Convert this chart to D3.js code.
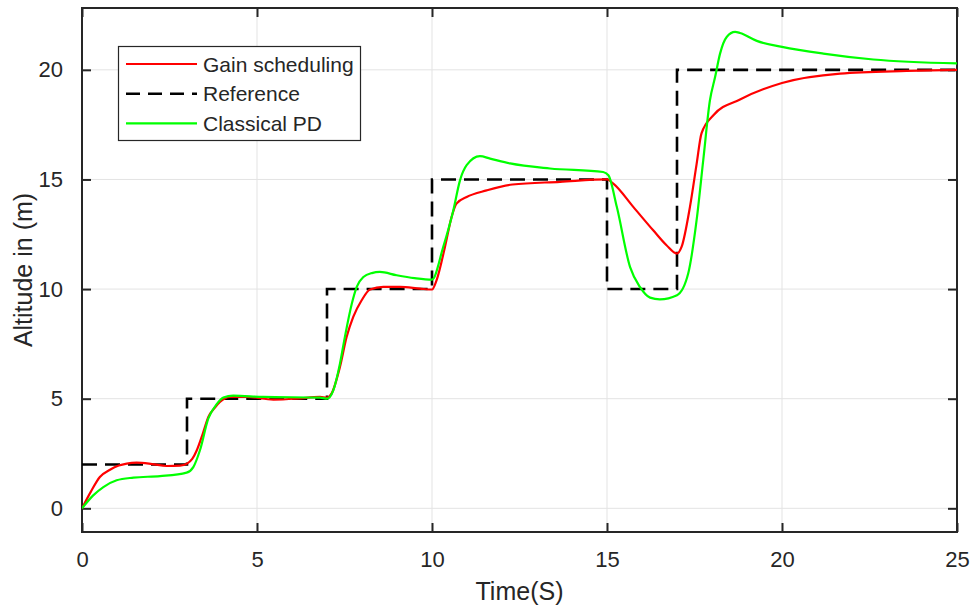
<!DOCTYPE html>
<html>
<head>
<meta charset="utf-8">
<script src="https://cdn.jsdelivr.net/npm/d3@7"></script>
<style>
  body { margin: 0; background: #fff; }
  text { font-family: "Liberation Sans", Arial, sans-serif; fill: #262626; }
</style>
</head>
<body>
<div id="chart-area"></div>
<script>
// data
const refTime = [0, 3, 3, 7, 7, 10, 10, 15, 15, 17, 17, 25];
const refAlt  = [2, 2, 5, 5, 10, 10, 15, 15, 10, 10, 20, 20];

const gsTime = [0, 0.25, 0.51, 0.8, 1.05, 1.28, 1.56, 2.0, 2.42, 2.8, 3.0, 3.15, 3.28, 3.45, 3.61, 3.8, 3.94, 4.23, 4.7, 5.47, 6.13, 6.8, 7.0, 7.13, 7.37, 7.56, 7.75, 7.99, 8.23, 8.61, 9.09, 9.66, 10.0, 10.13, 10.37, 10.56, 10.7, 10.99, 11.56, 12.3, 13.66, 15.0, 15.18, 15.75, 16.32, 16.7, 17.0, 17.13, 17.37, 17.56, 17.7, 18.04, 18.8, 20.0, 21.66, 23.56, 25];
const gsAlt  = [0, 0.75, 1.43, 1.76, 1.95, 2.04, 2.08, 2.02, 1.93, 1.95, 2.04, 2.25, 2.65, 3.4, 4.17, 4.6, 4.85, 5.08, 5.08, 4.96, 5.0, 5.08, 5.05, 5.23, 6.45, 7.81, 8.73, 9.49, 9.98, 10.1, 10.1, 10.02, 9.98, 10.4, 11.92, 13.29, 13.9, 14.2, 14.5, 14.77, 14.89, 15.0, 14.81, 13.75, 12.68, 12.0, 11.62, 11.92, 13.75, 15.7, 17.1, 17.93, 18.65, 19.4, 19.83, 19.95, 20.0];

const pdTime = [0, 0.32, 0.61, 0.99, 1.47, 2.23, 2.99, 3.18, 3.37, 3.61, 3.85, 4.04, 4.32, 5.18, 6.8, 7.0, 7.18, 7.37, 7.51, 7.71, 7.85, 8.04, 8.28, 8.51, 8.99, 9.5, 10.0, 10.32, 10.61, 10.8, 10.99, 11.37, 11.66, 12.23, 13.37, 14.89, 15.04, 15.28, 15.66, 15.94, 16.23, 16.51, 17.0, 17.32, 17.56, 17.75, 17.94, 18.09, 18.23, 18.42, 18.66, 18.8, 19.28, 20.0, 21.18, 22.61, 25];
const pdAlt  = [0, 0.59, 0.97, 1.28, 1.4, 1.47, 1.63, 1.88, 2.65, 4.1, 4.75, 5.05, 5.14, 5.08, 5.05, 5.0, 5.38, 6.6, 7.81, 9.34, 10.1, 10.55, 10.73, 10.78, 10.63, 10.5, 10.43, 11.92, 13.6, 14.96, 15.65, 16.06, 15.95, 15.73, 15.5, 15.34, 15.19, 13.75, 11.0, 10.1, 9.61, 9.53, 9.72, 10.71, 13.14, 15.88, 18.6, 19.68, 20.74, 21.5, 21.73, 21.68, 21.32, 21.05, 20.74, 20.47, 20.29];

const xTicks = [0, 5, 10, 15, 20, 25];
const yTicks = [0, 5, 10, 15, 20];

const full_width = 973, full_height = 607;
const margin = { left: 82, right: 16, top: 8, bottom: 75 };
const width = full_width - margin.left - margin.right,
    height = full_height - margin.top - margin.bottom;

const svg = d3.select("#chart-area")
    .append("svg")
    .attr("width", full_width)
    .attr("height", full_height);

const g = svg.append("g")
    .attr("transform", "translate(" + margin.left + ", " + margin.top + ")");

const x = d3.scaleLinear().domain([0, 25]).range([0, width]);
const y = d3.scaleLinear().domain([-1.08, 22.82]).range([height, 0]);

// grid
g.append("g").selectAll("line")
    .data(xTicks).enter().append("line")
    .attr("x1", d => x(d)).attr("x2", d => x(d))
    .attr("y1", 0).attr("y2", height)
    .attr("stroke", "#e3e3e3").attr("stroke-width", 1);
g.append("g").selectAll("line")
    .data(yTicks).enter().append("line")
    .attr("x1", 0).attr("x2", width)
    .attr("y1", d => y(d)).attr("y2", d => y(d))
    .attr("stroke", "#e3e3e3").attr("stroke-width", 1);

// axes
const tickLen = 9;
const xAxisCall = d3.axisBottom(x).tickValues(xTicks).tickSizeInner(-tickLen).tickSizeOuter(0).tickPadding(19);
const xAxis = g.append("g")
    .attr("class", "x axis")
    .attr("transform", "translate(0, " + height + ")")
    .call(xAxisCall);
const yAxisCall = d3.axisLeft(y).tickValues(yTicks).tickSizeInner(-tickLen).tickSizeOuter(0).tickPadding(19);
const yAxis = g.append("g")
    .attr("class", "y axis")
    .call(yAxisCall);
const xTop = g.append("g").call(d3.axisTop(x).tickValues(xTicks).tickSizeInner(-tickLen).tickSizeOuter(0).tickFormat(""));
const yRight = g.append("g").attr("transform", "translate(" + width + ",0)")
    .call(d3.axisRight(y).tickValues(yTicks).tickSizeInner(-tickLen).tickSizeOuter(0).tickFormat(""));

[xAxis, yAxis, xTop, yRight].forEach(a => {
    a.select(".domain").remove();
    a.selectAll(".tick line").attr("stroke", "#262626").attr("stroke-width", 2);
});
g.selectAll(".axis text")
    .attr("font-size", "22px")
    .attr("font-family", "'Liberation Sans', Arial, sans-serif")
    .attr("fill", "#262626");

// box
g.append("rect")
    .attr("x", 0).attr("y", 0)
    .attr("width", width).attr("height", height)
    .attr("fill", "none")
    .attr("stroke", "#262626")
    .attr("stroke-width", 2);

// lines
const line = d3.line()
    .x(d => x(d[0]))
    .y(d => y(d[1]));
const smooth = d3.line()
    .x(d => x(d[0]))
    .y(d => y(d[1]))
    .curve(d3.curveMonotoneX);

svg.append("clipPath").attr("id", "plotclip")
    .append("rect").attr("width", width).attr("height", height);

const plot = g.append("g").attr("clip-path", "url(#plotclip)");

plot.append("path")
    .datum(refTime.map((t, i) => [t, refAlt[i]]))
    .attr("d", line)
    .attr("fill", "none")
    .attr("stroke", "#000")
    .attr("stroke-width", 2.6)
    .attr("stroke-dasharray", "15,8");

plot.append("path")
    .datum(gsTime.map((t, i) => [t, gsAlt[i]]))
    .attr("d", smooth)
    .attr("fill", "none")
    .attr("stroke", "#ff0000")
    .attr("stroke-width", 2.2);

plot.append("path")
    .datum(pdTime.map((t, i) => [t, pdAlt[i]]))
    .attr("d", smooth)
    .attr("fill", "none")
    .attr("stroke", "#00ff00")
    .attr("stroke-width", 2.2);

// axis labels (centred on the axes box)
svg.append("text")
    .attr("x", margin.left + width / 2)
    .attr("y", 600)
    .attr("font-size", "25px")
    .attr("text-anchor", "middle")
    .text("Time(S)");

svg.append("text")
    .attr("x", -(margin.top + height / 2))
    .attr("y", 32)
    .attr("font-size", "25px")
    .attr("text-anchor", "middle")
    .attr("transform", "rotate(-90)")
    .text("Altitude in (m)");

// legend
const legend = svg.append("g");
legend.append("rect")
    .attr("x", 118.5).attr("y", 46.5)
    .attr("width", 242).attr("height", 94)
    .attr("fill", "#fff")
    .attr("stroke", "#262626")
    .attr("stroke-width", 1.2);

const legendItems = [
    { name: "Gain scheduling", color: "#ff0000", dash: null },
    { name: "Reference", color: "#000", dash: "14,8" },
    { name: "Classical PD", color: "#00ff00", dash: null }
];
legendItems.forEach((d, i) => {
    const cy = 64 + i * 29.7;
    legend.append("line")
        .attr("x1", 126).attr("x2", 197)
        .attr("y1", cy).attr("y2", cy)
        .attr("stroke", d.color)
        .attr("stroke-width", d.dash ? 2.6 : 2.2)
        .attr("stroke-dasharray", d.dash);
    legend.append("text")
        .attr("x", 203)
        .attr("y", cy + 7.5)
        .attr("font-size", "21px")
        .text(d.name);
});
</script>
</body>
</html>
